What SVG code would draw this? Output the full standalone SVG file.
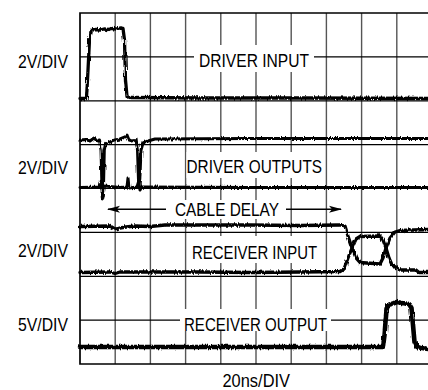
<svg xmlns="http://www.w3.org/2000/svg" width="428" height="390" viewBox="0 0 428 390">
<defs>
<style>
.vg{stroke:#555;stroke-width:1.4;fill:none}
.hg{stroke:#000;stroke-width:1.2;fill:none}
.bd{stroke:#000;stroke-width:1.7;fill:none}
.lb{font-family:"Liberation Sans",Arial,sans-serif;font-size:18.5px;fill:#000}
.tr{fill:none;stroke:#000;stroke-linejoin:round;stroke-linecap:round}
.ar{stroke:#000;stroke-width:1.5;fill:none}
</style>
<filter id="noise" x="-5%" y="-5%" width="110%" height="110%">
<feTurbulence type="fractalNoise" baseFrequency="0.7 0.08" numOctaves="2" seed="4" result="n"/>
<feDisplacementMap in="SourceGraphic" in2="n" scale="3.5" xChannelSelector="G" yChannelSelector="R"/>
</filter>
<marker id="ah" markerUnits="userSpaceOnUse" markerWidth="14" markerHeight="8" refX="12" refY="4" orient="auto">
<path d="M0,0.5 L13,4 L0,7.5 L3,4 Z" fill="#000"/>
</marker>
</defs>
<rect width="428" height="390" fill="#fff"/>
<g id="grid">
<path class="vg" d="M115.2,13V364M150.4,13V364M185.6,13V364M220.8,13V364M256,13V364M291.2,13V364M326.4,13V364M361.6,13V364M396.8,13V364"/>
<path class="hg" d="M80,56.9H428M80,100.8H428M80,144.6H428M80,188.5H428M80,232.4H428M80,276.3H428M80,320.1H428"/>
<path class="bd" d="M428,13H80V364H428"/>
</g>
<g id="label-boxes" fill="#fff">
<rect x="194" y="45" width="120" height="27"/>
<rect x="186.5" y="152" width="137" height="26"/>
<rect x="170" y="200" width="112" height="19"/>
<rect x="188" y="236" width="134" height="27"/>
<rect x="180" y="309" width="151" height="22"/>
</g>
<g id="labels">
<text class="lb" x="18" y="68" textLength="50" lengthAdjust="spacingAndGlyphs">2V/DIV</text>
<text class="lb" x="18" y="174" textLength="50" lengthAdjust="spacingAndGlyphs">2V/DIV</text>
<text class="lb" x="18" y="257" textLength="50" lengthAdjust="spacingAndGlyphs">2V/DIV</text>
<text class="lb" x="18" y="331" textLength="50" lengthAdjust="spacingAndGlyphs">5V/DIV</text>
<text class="lb" x="199" y="67" textLength="110" lengthAdjust="spacingAndGlyphs">DRIVER INPUT</text>
<text class="lb" x="186.5" y="173" textLength="135.5" lengthAdjust="spacingAndGlyphs">DRIVER OUTPUTS</text>
<text class="lb" x="175" y="216" textLength="104" lengthAdjust="spacingAndGlyphs">CABLE DELAY</text>
<text class="lb" x="192" y="259" textLength="125" lengthAdjust="spacingAndGlyphs">RECEIVER INPUT</text>
<text class="lb" x="184" y="331" textLength="143" lengthAdjust="spacingAndGlyphs">RECEIVER OUTPUT</text>
<text class="lb" x="222.5" y="387" textLength="67.5" lengthAdjust="spacingAndGlyphs">20ns/DIV</text>
</g>
<g id="cable-delay-arrows">
<line class="ar" x1="166" y1="209.3" x2="108" y2="209.3" marker-end="url(#ah)"/>
<line class="ar" x1="286" y1="209.3" x2="341" y2="209.3" marker-end="url(#ah)"/>
</g>
<g id="traces" filter="url(#noise)">
<path id="driver-input" class="tr" stroke-width="3.3" d="M80,98.5 L86.5,98.5 L88,70 L89.5,40 L91.5,30 L96,29.5 L100,30 L104,29 L108,29.5 L112,28.5 L116,29 L120,28 L123,28.5 L124.5,40 L125.5,80 L127,96.5 L130,97.5 L200,98 L300,98 L428,98.5"/>
<path id="driver-output-a" class="tr" stroke-width="3" d="M80,140 L86,139.5 L90,141 L94,138 L97,141 L99.5,140 L101,150 L102.3,199 L103.3,195 L104.3,150 L105.5,144 L110,142 L115,140 L120,139 L125,137 L127,135 L129,140 L133,141 L136,139.5 L137.5,150 L138.7,186 L139.8,180 L141,150 L143,143 L148,141 L155,139 L250,138.5 L428,138.5"/>
<path id="driver-output-b" class="tr" stroke-width="3" d="M80,187.5 L100,187 L101.5,180 L103,195 L104.5,186 L120,187.5 L127,187 L128,178 L129,188 L137,187 L138.5,182 L140,190 L141.5,187 L250,187.5 L428,187.5"/>
<path id="receiver-input-a" class="tr" stroke-width="3.3" d="M80,226.5 L110,226 L115,229 L120,228 L126,227 L135,226 L150,226.5 L165,225 L200,225 L250,225 L300,225.5 L340,225 L345,226 L348,236 L352,248 L356,258 L360,262.5 L380,264 L383,258 L386,248 L390,238 L395,232 L400,230.5 L428,229.5"/>
<path id="receiver-input-b" class="tr" stroke-width="3.3" d="M80,272.5 L110,272 L115,273.5 L120,272 L150,272 L200,272 L250,272.5 L300,272 L340,271.5 L344,269 L348,258 L352,248 L356,239 L360,236.5 L380,236 L383,240 L386,248 L389,258 L392,265 L397,268 L400,270 L416,270 L419,272.5 L428,272.5"/>
<path id="receiver-output" class="tr" stroke-width="4.6" d="M80,347 L200,347 L383,347 L384.5,335 L386.5,310 L388,305 L393,303.5 L397,302 L402,303 L409,304 L411.5,308 L413,325 L414.5,342 L417,347 L422,348 L428,349"/>
</g>
</svg>
